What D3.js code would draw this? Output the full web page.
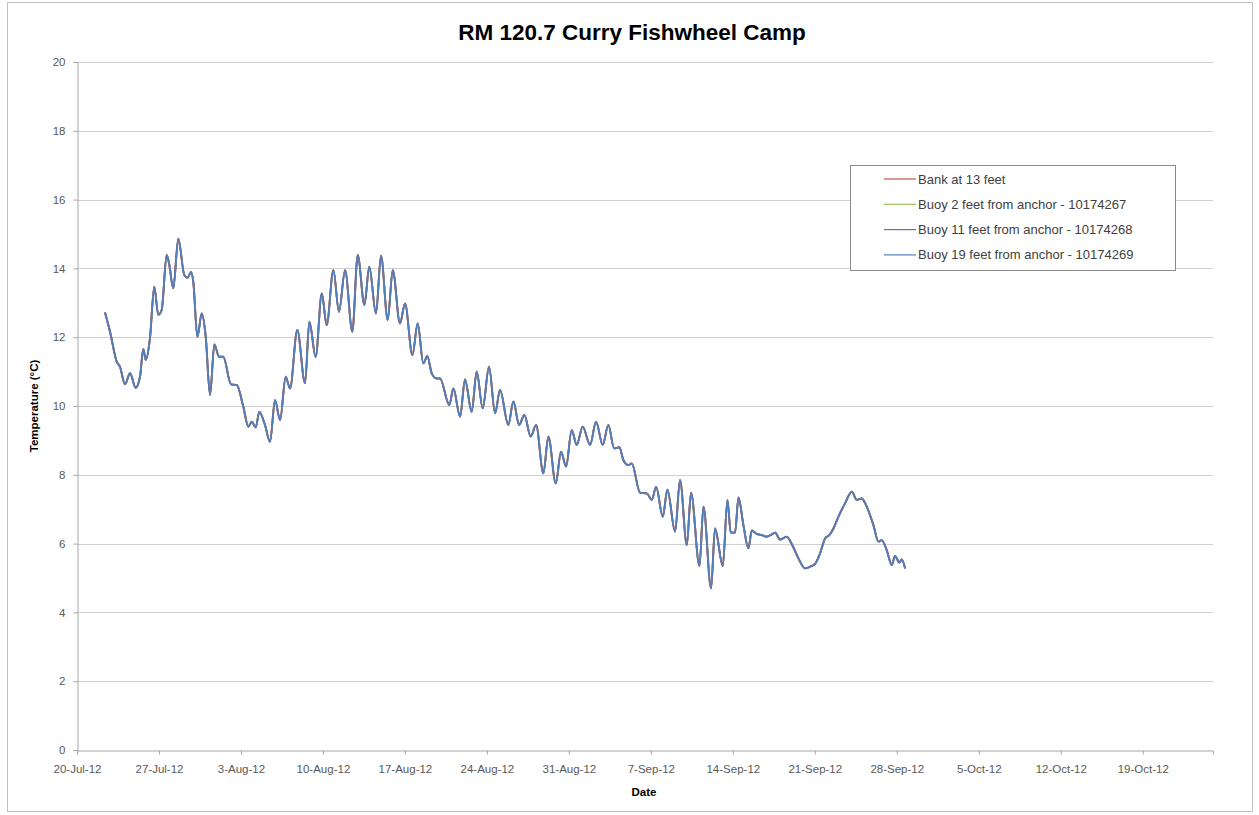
<!DOCTYPE html>
<html>
<head>
<meta charset="utf-8">
<script src="https://cdn.jsdelivr.net/npm/d3@7"></script>
<style>
  html, body { margin: 0; padding: 0; background: #ffffff; }
  svg { display: block; font-family: "Liberation Sans", Arial, sans-serif; }
</style>
</head>
<body>
<svg id="chart" width="1259" height="815"></svg>
<script>
// ---------------- data ----------------
const chartTitle = "RM 120.7 Curry Fishwheel Camp";
const xAxisTitle = "Date";
const yAxisTitle = "Temperature (°C)";
const seriesNames = [
  "Bank at 13 feet",
  "Buoy 2 feet from anchor - 10174267",
  "Buoy 11 feet from anchor - 10174268",
  "Buoy 19 feet from anchor - 10174269"
];
const seriesColors = ["#C0504D", "#9BBB59", "#8064A2", "#4F81BD"];
const startDate = "2012-07-20";
const endDate = "2012-10-25";
const xTickLabels = ["20-Jul-12","27-Jul-12","3-Aug-12","10-Aug-12","17-Aug-12","24-Aug-12","31-Aug-12",
  "7-Sep-12","14-Sep-12","21-Sep-12","28-Sep-12","5-Oct-12","12-Oct-12","19-Oct-12"];
const yTicks = [0, 2, 4, 6, 8, 10, 12, 14, 16, 18, 20];
// elapsed days since 20-Jul-2012 00:00
const elapsedDays = [
  2.39,2.82,3.39,3.67,4.10,4.53,5.01,5.38,5.66,5.87,
  6.23,6.60,6.94,7.23,7.66,7.86,8.22,8.65,9.16,9.45,
  9.74,9.93,10.28,10.65,10.99,11.36,11.73,12.13,12.49,13.15,
  13.64,14.20,14.63,14.92,15.26,15.57,16.05,16.48,16.91,17.34,
  17.82,18.19,18.81,19.47,19.84,20.38,20.90,21.32,21.89,22.37,
  22.89,23.51,23.97,24.54,24.96,25.53,25.96,26.53,26.96,27.58,
  28.01,28.64,29.09,29.57,29.91,30.29,30.71,31.00,31.79,32.14,
  32.71,33.13,33.70,34.13,34.64,35.18,35.70,36.12,36.83,37.26,
  37.75,38.20,38.74,39.20,39.82,40.25,40.88,41.33,41.76,42.24,
  42.67,43.18,43.81,44.32,44.89,45.37,45.86,46.31,46.65,47.08,
  47.37,48.08,48.65,49.08,49.45,50.02,50.41,51.07,51.49,52.07,
  52.43,53.15,53.49,54.14,54.48,55.14,55.54,55.82,56.19,56.48,
  56.90,57.33,57.62,58.04,58.47,58.84,59.24,59.61,60.03,60.60,
  61.11,61.60,62.17,62.60,63.02,63.45,63.88,64.25,64.59,65.01,
  65.58,66.16,66.58,67.01,67.44,68.00,68.43,68.71,69.14,69.57,
  69.85,70.22,70.42,70.71
];
const buoy19Temps = [
  12.72,12.16,11.29,11.14,10.63,10.95,10.53,10.85,11.66,11.34,
  11.97,13.47,12.65,12.79,14.39,14.15,13.42,14.86,13.81,13.73,
  13.90,13.61,12.01,12.69,12.02,10.32,11.79,11.43,11.43,10.63,
  10.61,9.98,9.40,9.54,9.38,9.83,9.45,8.96,10.17,9.59,
  10.85,10.51,12.21,10.66,12.45,11.43,13.27,12.35,13.95,12.74,
  13.95,12.16,14.39,12.94,14.05,12.69,14.37,12.50,13.95,12.40,
  12.98,11.48,12.40,11.24,11.45,10.95,10.80,10.80,10.03,10.51,
  9.69,10.77,9.83,11.00,9.93,11.14,9.79,10.47,9.45,10.13,
  9.45,9.74,9.11,9.45,8.04,9.11,7.75,8.67,8.24,9.30,
  8.87,9.40,8.87,9.54,8.87,9.45,8.77,8.80,8.43,8.28,
  8.33,7.48,7.46,7.27,7.65,6.78,7.57,6.35,7.85,5.96,
  7.48,5.35,7.07,4.70,6.44,5.35,7.27,6.32,6.32,7.34,
  6.54,5.86,6.38,6.28,6.25,6.20,6.25,6.32,6.12,6.20,
  5.93,5.57,5.28,5.33,5.41,5.72,6.15,6.25,6.44,6.78,
  7.17,7.51,7.27,7.31,7.07,6.54,6.06,6.10,5.81,5.38,
  5.64,5.45,5.54,5.28
];
// the other loggers overlap the Buoy 19 trace completely in the picture
const buoy11Temps = buoy19Temps;
const buoy2Temps = buoy19Temps;
const bankTemps = buoy19Temps;
const seriesValues = [bankTemps, buoy2Temps, buoy11Temps, buoy19Temps];

// ---------------- layout ----------------
const plot = { left: 77, right: 1213, top: 62, bottom: 750 };
const svg = d3.select("#chart");

svg.append("rect").attr("x", 7.5).attr("y", 2.5).attr("width", 1245).attr("height", 809)
  .attr("fill", "#fff").attr("stroke", "#BFBFBF").attr("stroke-width", 1);

const parse = d3.timeParse("%Y-%m-%d");
const t0 = parse(startDate);
const x = d3.scaleTime().domain([t0, parse(endDate)]).range([plot.left, plot.right]);
const y = d3.scaleLinear().domain([0, 20]).range([plot.bottom, plot.top]);

const tickDates = xTickLabels.map((_, i) => d3.timeDay.offset(t0, i * 7));

// gridlines
svg.append("g").selectAll("line").data(yTicks.filter(v => v > 0)).join("line")
  .attr("x1", plot.left).attr("x2", plot.right)
  .attr("y1", d => Math.round(y(d)) + 0.5).attr("y2", d => Math.round(y(d)) + 0.5)
  .attr("stroke", "#D0D0D0").attr("stroke-width", 1);

// y axis
const yAxis = d3.axisLeft(y).tickValues(yTicks).tickSize(4).tickPadding(8).tickFormat(d3.format("d"));
const gy = svg.append("g").attr("transform", `translate(${plot.left + 0.5},0)`).call(yAxis);
gy.select(".domain").attr("stroke", "#A6A6A6");
gy.selectAll(".tick line").attr("stroke", "#A6A6A6");
gy.selectAll(".tick text").attr("fill", "#595959").style("font-size", "11.5px");

// x axis
const xAxis = d3.axisBottom(x).tickValues(tickDates).tickSize(4).tickPadding(10)
  .tickFormat((d, i) => xTickLabels[i]);
const gx = svg.append("g").attr("transform", `translate(0,${plot.bottom + 0.5})`).call(xAxis);
gx.select(".domain").attr("stroke", "#A6A6A6");
gx.selectAll(".tick line").attr("stroke", "#A6A6A6");
gx.selectAll(".tick text").attr("fill", "#595959").style("font-size", "11.5px");

// lines
const lineGen = d3.line()
  .x((d, i) => x(d3.timeMinute.offset(t0, Math.round(elapsedDays[i] * 1440))))
  .y(d => y(d))
  .curve(d3.curveMonotoneX);
svg.append("g").selectAll("path").data(seriesValues).join("path")
  .attr("d", d => lineGen(d))
  .attr("fill", "none")
  .attr("stroke", (d, i) => seriesColors[i])
  .attr("stroke-width", (d, i) => i === 3 ? 1.5 : 1.9)
  .attr("stroke-linejoin", "round");

// titles
svg.append("text").attr("x", 632).attr("y", 40).attr("text-anchor", "middle")
  .style("font-size", "22.5px").style("font-weight", "bold").attr("fill", "#000").text(chartTitle);
svg.append("text").attr("x", 644).attr("y", 796).attr("text-anchor", "middle")
  .style("font-size", "11.5px").style("font-weight", "bold").attr("fill", "#000").text(xAxisTitle);
svg.append("text").attr("transform", "translate(38,406) rotate(-90)").attr("text-anchor", "middle")
  .style("font-size", "11.5px").style("font-weight", "bold").attr("fill", "#000").text(yAxisTitle);

// legend
const lg = svg.append("g");
lg.append("rect").attr("x", 850.5).attr("y", 165.5).attr("width", 325).attr("height", 105)
  .attr("fill", "#fff").attr("stroke", "#8C8C8C");
const items = lg.selectAll("g.item").data(seriesNames).join("g").attr("class", "item")
  .attr("transform", (d, i) => `translate(0,${179 + i * 25.3})`);
items.append("line").attr("x1", 884).attr("x2", 916).attr("y1", 0).attr("y2", 0)
  .attr("stroke", (d, i) => seriesColors[i]).attr("stroke-width", 1.2);
items.append("text").attr("x", 918).attr("y", 4.5).style("font-size", "13px")
  .attr("fill", "#404040").text(d => d);
</script>
</body>
</html>
